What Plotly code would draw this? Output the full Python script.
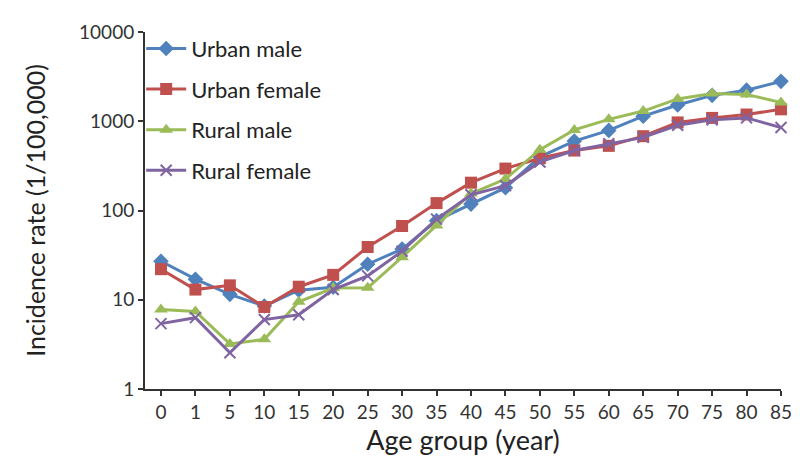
import plotly.graph_objects as go

age_groups = ["0", "1", "5", "10", "15", "20", "25", "30", "35", "40", "45",
              "50", "55", "60", "65", "70", "75", "80", "85"]

urban_male = [27, 17, 11.5, 8.5, 12.8, 13.8, 25, 37, 77, 118, 180,
              400, 600, 790, 1140, 1520, 1950, 2230, 2800]
urban_female = [22, 13, 14.5, 8.3, 14, 19, 39, 67, 121, 205, 295,
                385, 470, 530, 680, 970, 1090, 1190, 1360]
rural_male = [7.8, 7.4, 3.2, 3.6, 9.5, 13.5, 13.6, 30, 68, 155, 225,
              480, 800, 1050, 1300, 1780, 2050, 2000, 1620]
rural_female = [5.4, 6.3, 2.55, 6.0, 6.8, 13, 18.5, 35, 80, 150, 190,
                350, 470, 560, 660, 900, 1040, 1090, 850]

series = [
    ("Urban male", urban_male, "#4F81BD", "diamond", 12),
    ("Urban female", urban_female, "#C0504D", "square", 12),
    ("Rural male", rural_male, "#9BBB59", "triangle-up", 12),
    ("Rural female", rural_female, "#8064A2", "x-thin", 11),
]

x_idx = list(range(len(age_groups)))

fig = go.Figure()
for i, (name, vals, color, sym, size) in enumerate(series):
    marker = dict(symbol=sym, size=size, color=color)
    if sym == "x-thin":
        marker["line"] = dict(color=color, width=2)
    fig.add_trace(go.Scatter(
        x=x_idx, y=vals, name=name, mode="lines+markers",
        line=dict(color=color, width=3), marker=marker,
        legendgroup=f"g{i}", cliponaxis=False,
    ))

font_family = "Lato, 'Open Sans', sans-serif"
fig.update_layout(
    width=800, height=464,
    margin=dict(l=137, r=27, t=24, b=83),
    paper_bgcolor="white", plot_bgcolor="white",
    font=dict(family=font_family, color="#222222"),
    showlegend=True,
    legend=dict(x=-0.006, y=1.012, xanchor="left", yanchor="top",
                font=dict(size=22, family=font_family, color="#222222"),
                bgcolor="rgba(0,0,0,0)", tracegroupgap=9,
                itemwidth=40),
)
fig.update_xaxes(
    tickmode="array", tickvals=x_idx, ticktext=age_groups,
    range=[-0.464, 18],
    showline=True, linecolor="#333333", linewidth=2,
    ticks="outside", ticklen=5, tickcolor="#333333", tickwidth=1.5,
    showgrid=False, zeroline=False,
    tickfont=dict(size=19, color="#333333"),
    title=dict(text="Age group (year)", font=dict(size=27, color="#222222"), standoff=8),
)
fig.update_yaxes(
    type="log", range=[0, 4],
    tickmode="array", tickvals=[1, 10, 100, 1000, 10000],
    ticktext=["1", "10", "100", "1000", "10000"],
    showline=True, linecolor="#333333", linewidth=2,
    ticks="outside", ticklen=5, tickcolor="#333333", tickwidth=1.5,
    showgrid=False, zeroline=False,
    tickfont=dict(size=19, color="#333333"),
    title=dict(text="Incidence rate (1/100,000)", font=dict(size=25, color="#222222"), standoff=26),
)

fig.write_html("out.html")
